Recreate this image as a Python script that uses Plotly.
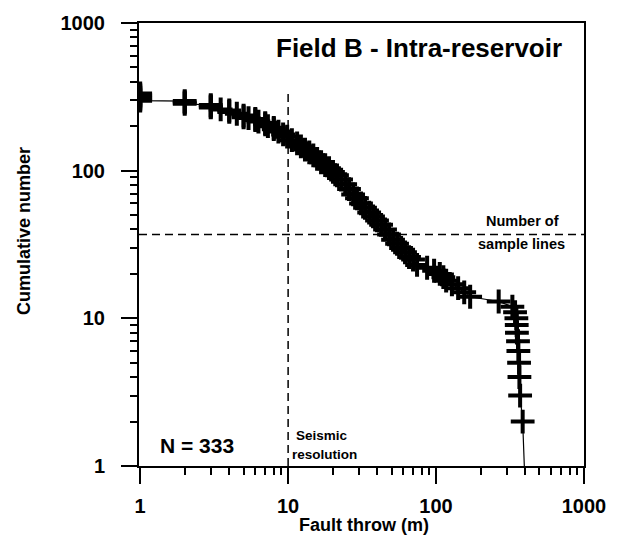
import math
import plotly.graph_objects as go

# ---- data ----
throw_m = [1, 1, 1, 1, 1, 1,
           2, 2, 2,
           3, 3, 3, 3.5, 4, 4, 4.5, 5, 5, 5.4, 6, 6, 6.3, 7, 7, 7.3, 8, 8, 8.6, 9.25,
           9.85, 10.6, 11.5, 12.2, 13.0, 13.9, 14.8, 15.7, 16.7, 17.8, 18.9, 20.1,
           21.4, 22.8, 24.3, 25.8, 27.5, 29.2, 31.1, 33.1, 35.3, 37.5, 39.9, 42.5,
           45.2, 48.1, 51.2, 54.5, 58.0, 61.7, 65.7, 69.9, 74.4,
           87, 97, 106, 112, 117, 128, 141, 155, 170,
           265, 328, 342, 349, 351, 352, 358, 360, 364, 366, 370, 385, 395]
cumulative = [333, 325, 318, 311, 304, 298,
              296, 290, 284,
              278, 272, 268, 260, 256, 250, 243, 236, 230, 227, 224, 220, 215, 210, 206, 200, 195, 191, 184, 176,
              170, 161, 153, 146, 139, 133, 127, 120, 114, 109, 104, 98,
              93, 87, 81, 75, 69, 65, 60, 56, 52, 49, 46, 43,
              40, 37, 34, 32, 30, 28, 26, 25, 23,
              22, 21, 20, 19, 18, 17, 16, 15, 14,
              13, 12, 11, 10, 9, 8, 7, 6, 5, 4, 3, 2, 1]

N_TOTAL = 333
SEISMIC_RESOLUTION = 10
SAMPLE_LINES = 37

major_ticks = [1, 10, 100, 1000]
minor_ticks = [m * d for d in (1, 10, 100) for m in range(2, 10)]

X_RANGE_LOG = [-0.008, 3.0]
Y_RANGE_LOG = [0.0, 3.0]

FONT = "Liberation Sans, Arial, Helvetica, sans-serif"

fig = go.Figure()

# connecting line, drawn on linear overlay axes in log10 units (same positions)
fig.add_trace(go.Scatter(x=[math.log10(v) for v in throw_m],
                         y=[math.log10(v) for v in cumulative],
                         mode="lines", xaxis="x2", yaxis="y2",
                         line=dict(color="black", width=1.2),
                         hoverinfo="skip", showlegend=False))
# plus markers (last point sits on the axis)
fig.add_trace(go.Scatter(x=throw_m[:-1], y=cumulative[:-1], mode="markers",
                         marker=dict(symbol="cross-thin", size=17,
                                     line=dict(color="black", width=4)),
                         showlegend=False))

# dashed reference lines
fig.add_trace(go.Scatter(x=[SEISMIC_RESOLUTION, SEISMIC_RESOLUTION], y=[1, N_TOTAL],
                         mode="lines", line=dict(color="black", width=1.5, dash="8px,5px"),
                         hoverinfo="skip", showlegend=False))
fig.add_trace(go.Scatter(x=[10 ** X_RANGE_LOG[0], 10 ** X_RANGE_LOG[1]],
                         y=[SAMPLE_LINES, SAMPLE_LINES],
                         mode="lines", line=dict(color="black", width=1.5, dash="8px,5px"),
                         hoverinfo="skip", showlegend=False))

# main log axes: long ticks + labels at decades
axis_main = dict(
    type="log",
    showgrid=False, zeroline=False,
    showline=True, linecolor="black", linewidth=2, mirror=True,
    ticks="outside", ticklen=16, tickwidth=1.8, tickcolor="black",
    tickmode="array", tickvals=major_ticks, ticktext=[str(v) for v in major_ticks],
    tickfont=dict(family=FONT, size=20, color="black", weight="bold"),
)
# linear overlay axes (log10 units): short ticks at 2..9 x 10^n
axis_minor = dict(
    type="linear",
    showgrid=False, zeroline=False, showline=False,
    ticks="outside", ticklen=8, tickwidth=1.6, tickcolor="black",
    tickmode="array", tickvals=[math.log10(v) for v in minor_ticks],
    showticklabels=False,
)

L, R, T, B = 139, 34, 21, 77
W, H = 618, 543
pw, ph = W - L - R, H - T - B

def px(xp):
    return (xp - L) / pw

def py(yp):
    return (H - B - yp) / ph

annos = [
    dict(text="Field B - Intra-reservoir", x=px(564), y=py(46), xanchor="right",
         yanchor="middle", font=dict(size=26)),
    dict(text="N = 333", x=px(158), y=py(445), xanchor="left", yanchor="middle",
         font=dict(size=21)),
    dict(text="Seismic", x=px(322), y=py(435), xanchor="center", yanchor="middle",
         font=dict(size=13.5)),
    dict(text="resolution", x=px(324), y=py(454), xanchor="center", yanchor="middle",
         font=dict(size=13.5)),
    dict(text="Number of", x=px(522), y=py(220), xanchor="center", yanchor="middle",
         font=dict(size=14.5)),
    dict(text="sample lines", x=px(521), y=py(243), xanchor="center", yanchor="middle",
         font=dict(size=14.5)),
    dict(text="Fault throw (m)", x=px(364), y=py(525), xanchor="center", yanchor="middle",
         font=dict(size=18)),
    dict(text="Cumulative number", x=px(24), y=py(230), xanchor="center", yanchor="middle",
         textangle=-90, font=dict(size=18)),
]
for a in annos:
    a.update(xref="paper", yref="paper", showarrow=False)
    a["font"].update(family=FONT, color="black", weight="bold")

fig.update_layout(
    width=W, height=H,
    margin=dict(l=L, r=R, t=T, b=B, pad=0),
    paper_bgcolor="white", plot_bgcolor="white",
    xaxis=dict(range=X_RANGE_LOG, ticklabelstandoff=5, **axis_main),
    yaxis=dict(range=Y_RANGE_LOG, ticklabelstandoff=12, **axis_main),
    xaxis2=dict(range=X_RANGE_LOG, overlaying="x", anchor="y", side="bottom", **axis_minor),
    yaxis2=dict(range=Y_RANGE_LOG, overlaying="y", anchor="x", side="left", **axis_minor),
    annotations=annos,
    showlegend=False,
)

fig.write_html("out.html")
